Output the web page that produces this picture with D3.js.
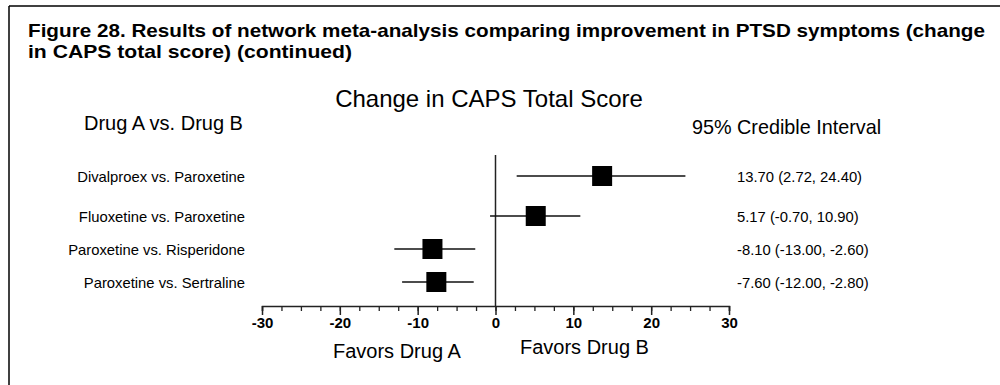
<!DOCTYPE html>
<html>
<head>
<meta charset="utf-8">
<script src="https://cdn.jsdelivr.net/npm/d3@7"></script>
<style>
  html, body { margin: 0; padding: 0; background: #fff; }
  svg { display: block; font-family: "Liberation Sans", Arial, sans-serif; }
</style>
</head>
<body>
<svg id="chart" width="1000" height="385"></svg>
<script>
// Comparisons (Drug A vs. Drug B) and their mean difference with 95% credible interval
const comparisons = [
  "Divalproex vs. Paroxetine",
  "Fluoxetine vs. Paroxetine",
  "Paroxetine vs. Risperidone",
  "Paroxetine vs. Sertraline"
];
const meanDiff = [13.70, 5.17, -8.10, -7.60];
const lowerCI  = [2.72, -0.70, -13.00, -12.00];
const upperCI  = [24.40, 10.90, -2.60, -2.80];
const majorTicks = [-30, -20, -10, 0, 10, 20, 30];
const minorTicks = d3.range(-30, 30.01, 2.5);

const svg = d3.select("#chart");

// Frame lines along the top and left edges
svg.append("line").attr("x1", 9).attr("x2", 1000).attr("y1", 6).attr("y2", 6)
  .attr("stroke", "#000").attr("stroke-width", 1.5);
svg.append("line").attr("x1", 9).attr("x2", 9).attr("y1", 6).attr("y2", 385)
  .attr("stroke", "#000").attr("stroke-width", 1.5);

// Figure caption
svg.append("text").attr("x", 28).attr("y", 37)
  .attr("font-size", 18.5).attr("font-weight", "bold")
  .attr("textLength", 957).attr("lengthAdjust", "spacingAndGlyphs")
  .text("Figure 28. Results of network meta-analysis comparing improvement in PTSD symptoms (change");
svg.append("text").attr("x", 28).attr("y", 58)
  .attr("font-size", 18.5).attr("font-weight", "bold")
  .attr("textLength", 324).attr("lengthAdjust", "spacingAndGlyphs")
  .text("in CAPS total score) (continued)");

// Scales
const x = d3.scaleLinear().domain([-30, 30]).range([262, 729]);
const y = d3.scaleLinear().domain([0, 1, 3]).range([176, 216, 282]);
const axisY = 306;

// Headings
svg.append("text").attr("x", 489).attr("y", 107).attr("text-anchor", "middle")
  .attr("font-size", 24).text("Change in CAPS Total Score");
svg.append("text").attr("x", 84).attr("y", 130)
  .attr("font-size", 20).text("Drug A vs. Drug B");
svg.append("text").attr("x", 692).attr("y", 134)
  .attr("font-size", 19.8).text("95% Credible Interval");

// Null line at zero
svg.append("line").attr("x1", x(0)).attr("x2", x(0))
  .attr("y1", 155).attr("y2", axisY)
  .attr("stroke", "#222").attr("stroke-width", 1.5);

// Axis with minor ticks every 2.5 and labelled majors every 10
const axisG = svg.append("g").attr("transform", `translate(0,${axisY})`);
axisG.call(d3.axisBottom(x).tickValues(minorTicks).tickSize(5).tickFormat(""))
  .call(g => g.select(".domain").attr("stroke", "#222").attr("stroke-width", 1.5));
axisG.selectAll(".tick line").attr("stroke", "#222").attr("stroke-width", 1.3);
const majorG = svg.append("g").attr("transform", `translate(0,${axisY})`);
majorG.call(d3.axisBottom(x).tickValues(majorTicks).tickSize(9).tickPadding(2).tickFormat(d3.format("d")))
  .call(g => g.select(".domain").remove());
majorG.selectAll(".tick line").attr("stroke", "#222").attr("stroke-width", 1.5);
majorG.selectAll(".tick text")
  .attr("font-family", "Liberation Sans, Arial, sans-serif")
  .attr("font-size", 15).attr("font-weight", "bold").attr("fill", "#000")
  .text(d => d < 0 ? "-" + Math.abs(d) : d);

// Row labels
svg.append("g").selectAll("text").data(comparisons).join("text")
  .attr("x", 245).attr("y", (d, i) => y(i) + 5.5)
  .attr("text-anchor", "end").attr("font-size", 14.8).text(d => d);

// Credible interval whiskers and point estimates
const rows = svg.append("g").selectAll("g").data(meanDiff).join("g");
rows.append("line")
  .attr("x1", (d, i) => x(lowerCI[i])).attr("x2", (d, i) => x(upperCI[i]))
  .attr("y1", (d, i) => y(i)).attr("y2", (d, i) => y(i))
  .attr("stroke", "#111").attr("stroke-width", 1.4);
const sq = 20;
rows.append("rect")
  .attr("x", d => x(d) - sq / 2).attr("y", (d, i) => y(i) - sq / 2)
  .attr("width", sq).attr("height", sq).attr("fill", "#000");

// Value labels
const f2 = d3.format(".2f");
svg.append("g").selectAll("text").data(meanDiff).join("text")
  .attr("x", 737).attr("y", (d, i) => y(i) + 5.5)
  .attr("font-size", 14.8)
  .text((d, i) => `${f2(d)} (${f2(lowerCI[i])}, ${f2(upperCI[i])})`.replace(/−/g, "-"));

// Direction labels
svg.append("text").attr("x", 333).attr("y", 358).attr("font-size", 20).text("Favors Drug A");
svg.append("text").attr("x", 520).attr("y", 354).attr("font-size", 20).text("Favors Drug B");
</script>
</body>
</html>
